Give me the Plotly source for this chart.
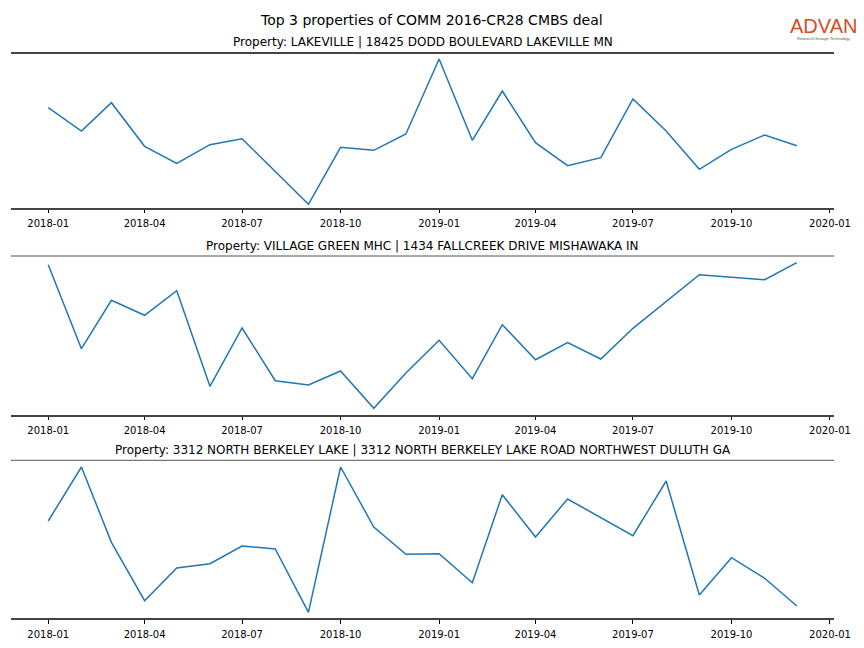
import plotly.graph_objects as go

months = ["2018-01-01", "2018-02-01", "2018-03-01", "2018-04-01", "2018-05-01", "2018-06-01",
          "2018-07-01", "2018-08-01", "2018-09-01", "2018-10-01", "2018-11-01", "2018-12-01",
          "2019-01-01", "2019-02-01", "2019-03-01", "2019-04-01", "2019-05-01", "2019-06-01",
          "2019-07-01", "2019-08-01", "2019-09-01", "2019-10-01", "2019-11-01", "2019-12-01"]

lakeville = [998, 765, 1048, 612, 442, 628, 688, 360, 32, 602, 572, 735,
             1485, 672, 1165, 648, 418, 498, 1085, 765, 382, 582, 725, 618]
village_green = [1498, 658, 1142, 992, 1238, 282, 865, 338, 295, 435, 62, 415,
                 742, 358, 898, 548, 718, 555, 862, 1128, 1398, 1372, 1348, 1518]
berkeley_lake = [970, 1510, 757, 173, 500, 543, 720, 690, 57, 1510, 910, 637,
                 643, 353, 1233, 810, 1190, 1007, 823, 1370, 230, 603, 397, 120]

titles = ["Property: LAKEVILLE | 18425 DODD BOULEVARD LAKEVILLE MN",
          "Property: VILLAGE GREEN MHC | 1434 FALLCREEK DRIVE MISHAWAKA IN",
          "Property: 3312 NORTH BERKELEY LAKE | 3312 NORTH BERKELEY LAKE ROAD NORTHWEST DULUTH GA"]
series = [lakeville, village_green, berkeley_lake]
y_ranges = [[0, 1535], [0, 1585], [0, 1577]]

# The page renders the figure offset by 8px with an effective width of 848px.
OFF, WE, HE = 8, 848, 648


def fx(px):
    return (px - OFF) / WE


def fy(py):
    return 1 - (py - OFF) / HE


x_dom = [fx(10.8), fx(835.2)]
areas = [(54, 207.5), (256, 414.5), (460.3, 618)]
title_y = [42, 246, 450]

fig = go.Figure()
for i, (vals, (top, bot)) in enumerate(zip(series, areas)):
    n = "" if i == 0 else str(i + 1)
    fig.add_trace(go.Scatter(x=months, y=vals, mode="lines",
                             line=dict(color="#1f77b4", width=1.5),
                             xaxis="x" + n, yaxis="y" + n, showlegend=False))
    fig.layout["xaxis" + n] = dict(
        domain=x_dom, anchor="y" + n, type="date",
        range=["2017-11-27 01:12", "2020-01-04 22:48"],
        tickmode="linear", tick0="2018-01-01", dtick="M3", tickformat="%Y-%m",
        ticks="outside", ticklen=3.5, tickwidth=0.8, tickcolor="#000",
        ticklabelstandoff=2,
        showline=True, linewidth=2, linecolor="#444", mirror=(i == 0),
        showgrid=False, zeroline=False,
        tickfont=dict(family="DejaVu Sans", size=10, color="#000"),
    )
    fig.layout["yaxis" + n] = dict(
        domain=[fy(bot), fy(top)], anchor="x" + n, range=y_ranges[i],
        showticklabels=False, showgrid=False, zeroline=False, showline=False, ticks="",
    )
    if i > 0:
        fig.add_shape(type="line", xref="x" + n + " domain", yref="y" + n + " domain",
                      x0=0, x1=1, y0=1, y1=1, line=dict(color="#555", width=1))
    fig.add_annotation(text=titles[i], xref="paper", yref="paper",
                       x=(x_dom[0] + x_dom[1]) / 2, y=fy(title_y[i]),
                       xanchor="center", yanchor="middle", showarrow=False,
                       font=dict(family="DejaVu Sans", size=12, color="#000"))

fig.add_annotation(text="Top 3 properties of COMM 2016-CR28 CMBS deal", xref="paper", yref="paper",
                   x=fx(432), y=fy(20), xanchor="center", yanchor="middle", showarrow=False,
                   font=dict(family="DejaVu Sans", size=14, color="#000"))
fig.add_annotation(text="ADVAN", xref="paper", yref="paper",
                   x=fx(824.5), y=fy(26), xanchor="center", yanchor="middle", showarrow=False,
                   font=dict(family="Liberation Sans", size=20, color="#dc4a1f"))
fig.add_annotation(text="Research through Technology", xref="paper", yref="paper",
                   x=fx(824.5), y=fy(39), xanchor="center", yanchor="middle", showarrow=False,
                   font=dict(family="Liberation Sans", size=4, color="#555"))

fig.update_layout(width=864, height=648, margin=dict(l=0, r=0, t=0, b=0),
                  plot_bgcolor="white", paper_bgcolor="white")
fig.write_html("out.html")
